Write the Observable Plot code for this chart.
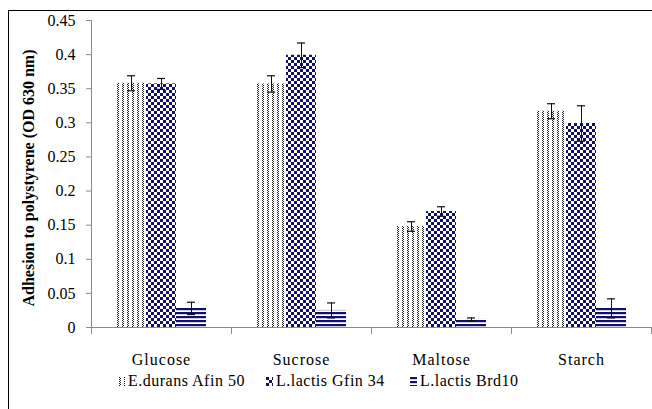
<!DOCTYPE html>
<html>
<head>
<meta charset="utf-8">
<script src="https://cdn.jsdelivr.net/npm/d3@7"></script>
<script src="https://cdn.jsdelivr.net/npm/@observablehq/plot@0.6"></script>
<style>
  body { margin: 0; background: #fff; }
  #wrap { position: relative; width: 652px; height: 409px; overflow: hidden; font-family: "Liberation Serif", "DejaVu Serif", serif; }
  #border { position: absolute; left: 8px; top: 10px; width: 700px; height: 500px; border: 1.5px solid #000; box-sizing: border-box; }
  #chart { position: absolute; left: 0; top: 0; }
  #chart svg, #chart svg text { font-family: "Liberation Serif", "DejaVu Serif", serif; }
  #chart g[aria-label="fx-axis tick label"] text { letter-spacing: 1px; }
  #legend { position: absolute; top: 372px; left: 0; width: 652px; height: 20px; font-size: 16px; letter-spacing: 0.5px; color: #000; }
  .item { position: absolute; top: 0; display: flex; align-items: center; white-space: nowrap; }
  .item svg { margin-right: 3px; }
</style>
</head>
<body>
<svg width="0" height="0" style="position:absolute">
  <defs>
    <pattern id="pat-dots" patternUnits="userSpaceOnUse" width="5" height="2">
      <rect width="5" height="2" fill="#fff"/>
      <rect x="1" y="0" width="1" height="1" fill="#222"/>
      <rect x="2" y="1" width="1" height="1" fill="#222"/>
    </pattern>
    <pattern id="pat-check" patternUnits="userSpaceOnUse" width="6" height="6">
      <rect width="6" height="6" fill="#fff"/>
      <rect x="0" y="0" width="3" height="3" fill="#10106a"/>
      <rect x="3" y="3" width="3" height="3" fill="#10106a"/>
    </pattern>
    <pattern id="pat-stripes" patternUnits="userSpaceOnUse" width="4" height="4">
      <rect width="4" height="4" fill="#fff"/>
      <rect x="0" y="0" width="4" height="2.2" fill="#10106a"/>
    </pattern>
  </defs>
</svg>
<div id="wrap">
  <div id="chart"></div>
  <div id="legend"></div>
  <div id="border"></div>
</div>
<script>
// Carbon sources on the x axis
const sugars = ["Glucose", "Sucrose", "Maltose", "Starch"];
// Strains (one bar per strain within each carbon source)
const strains = ["E.durans Afin 50", "L.lactis Gfin 34", "L.lactis Brd10"];

// Mean adhesion (OD 630 nm) and error for each strain, ordered as sugars
const eDurans     = [0.358, 0.357, 0.148, 0.317];
const eDuransErr  = [0.011, 0.012, 0.007, 0.011];
const gfin34      = [0.357, 0.399, 0.170, 0.299];
const gfin34Err   = [0.008, 0.018, 0.007, 0.026];
const brd10       = [0.028, 0.025, 0.012, 0.028];
const brd10Err    = [0.009, 0.011, 0.002, 0.014];

const yTicks = [0, 0.05, 0.1, 0.15, 0.2, 0.25, 0.3, 0.35, 0.4, 0.45];
const yLabel = "Adhesion to polystyrene (OD 630 nm)";

// Fill patterns defined in the <defs> block above
const fills = ["url(#pat-dots)", "url(#pat-check)", "url(#pat-stripes)"];

const series = [eDurans, gfin34, brd10];
const errors = [eDuransErr, gfin34Err, brd10Err];
const rows = sugars.flatMap((sugar, i) =>
  strains.map((strain, k) => ({sugar, strain, value: series[k][i], err: errors[k][i]}))
);

const axisGrey = "#8a8a8a";
const serif = "'Liberation Serif', 'DejaVu Serif', serif";

const chart = Plot.plot({
  width: 652,
  height: 409,
  marginLeft: 90,
  marginRight: 1,
  marginTop: 20,
  marginBottom: 82,
  style: {fontFamily: serif, fontSize: "16px", color: "#000", background: "transparent"},
  fx: {domain: sugars, padding: 0, label: null},
  x: {domain: strains, paddingInner: 0, paddingOuter: 0.8, axis: null},
  y: {domain: [0, 0.45], label: null},
  marks: [
    // y axis line (first facet only)
    Plot.frame({anchor: "left", stroke: axisGrey, facetAnchor: "left"}),
    Plot.axisY({ticks: yTicks, tickFormat: d => String(d), tickSize: 5, tickPadding: 11, stroke: axisGrey, fontSize: 16, label: null, facetAnchor: "left"}),
    // bars, one mark per strain so each gets its own pattern
    ...strains.map((s, k) =>
      Plot.barY(rows.filter(d => d.strain === s), {fx: "sugar", x: "strain", y: "value", fill: fills[k]})
    ),
    // error bars
    Plot.ruleX(rows, {fx: "sugar", x: "strain", y1: d => d.value - d.err, y2: d => d.value + d.err, stroke: "#111", strokeWidth: 1}),
    Plot.tickY(rows, {fx: "sugar", x: "strain", y: d => d.value + d.err, insetLeft: 11, insetRight: 11, stroke: "#111", strokeWidth: 1.2}),
    Plot.tickY(rows, {fx: "sugar", x: "strain", y: d => d.value - d.err, insetLeft: 11, insetRight: 11, stroke: "#111", strokeWidth: 1.2}),
    // x axis line and category boundary ticks
    Plot.ruleY([0], {stroke: axisGrey}),
    Plot.frame({anchor: "left", stroke: axisGrey, insetTop: 307, insetBottom: -6}),
    Plot.frame({anchor: "right", stroke: axisGrey, insetTop: 307, insetBottom: -6, facetAnchor: "right"}),
    Plot.axisFx({anchor: "bottom", tickSize: 0, tickPadding: 26, fontSize: 16, label: null}),
    // rotated y label
    Plot.text([yLabel], {text: d => d, frameAnchor: "left", textAnchor: "middle", rotate: -90, dx: -63, dy: 4, fontWeight: "bold", fontSize: 16, facetAnchor: "left"})
  ]
});
document.getElementById("chart").appendChild(chart);

// Legend with pattern swatches
const legendLefts = [118, 266, 410];
const legend = d3.select("#legend");
strains.forEach((s, k) => {
  const item = legend.append("div").attr("class", "item").style("left", legendLefts[k] + "px");
  const sw = item.append("svg").attr("width", 7).attr("height", 9);
  sw.append("rect").attr("width", 7).attr("height", 9).attr("fill", fills[k]);
  item.append("span").text(s);
});
</script>
</body>
</html>
